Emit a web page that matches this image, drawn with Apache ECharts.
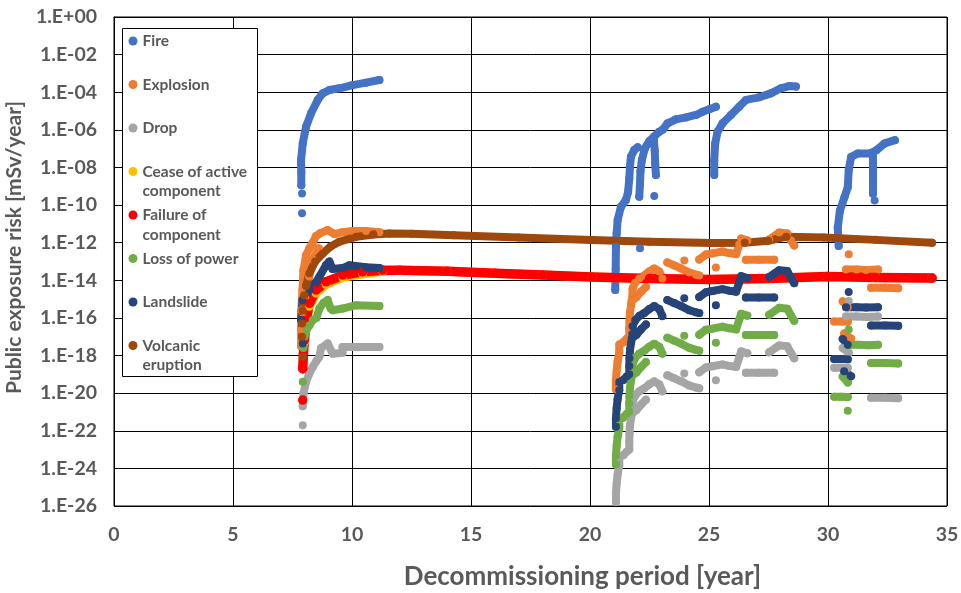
<!DOCTYPE html>
<html>
<head>
<meta charset="utf-8">
<script src="https://cdn.jsdelivr.net/npm/echarts@6/dist/echarts.min.js"></script>
<style>html,body{margin:0;padding:0;background:#fff}#chart{width:961px;height:593px}</style>
</head>
<body>
<div id="chart"></div>
<script>
// ---------- categories / labels ----------
const seriesNames = ['Fire', 'Explosion', 'Drop', 'Cease of active component', 'Failure of component', 'Loss of power', 'Landslide', 'Volcanic eruption'];
const legendLines = [['Fire'], ['Explosion'], ['Drop'], ['Cease of active', 'component'], ['Failure of', 'component'], ['Loss of power'], ['Landslide'], ['Volcanic', 'eruption']];
const seriesColors = ['#4472C4', '#ED7D31', '#A5A5A5', '#FFC000', '#FF0000', '#70AD47', '#264478', '#9E480E'];
// tick labels of the logarithmic axis (one per 2 decades, 1E+00 down to 1E-26)
const yTickLabels = ['1.E+00', '1.E-02', '1.E-04', '1.E-06', '1.E-08', '1.E-10', '1.E-12', '1.E-14', '1.E-16', '1.E-18', '1.E-20', '1.E-22', '1.E-24', '1.E-26'];

// ---------- series values: segments of [year, log10(risk in mSv/year)] ----------
const fireLog = [
  [[7.90, -10.44]],
  [[7.90, -9.38]],
  [[7.87, -8.94], [7.87, -8.24], [7.86, -7.6], [7.93, -6.72], [8.07, -5.83], [8.28, -5.12], [8.56, -4.41], [8.77, -4.06], [9.05, -3.88], [9.47, -3.79], [10.03, -3.62], [10.59, -3.49], [11.15, -3.35]],
  [[21.06, -14.52], [21.08, -13.4], [21.09, -12.22], [21.12, -11.5], [21.16, -10.8], [21.30, -10.09], [21.51, -9.73], [21.60, -9.3], [21.65, -8.6], [21.68, -7.96], [21.72, -7.43], [21.86, -7.07], [22.00, -6.93]],
  [[22.07, -9.56], [22.10, -8.9], [22.12, -8.2], [22.18, -7.6], [22.30, -7.0], [22.49, -6.6], [22.70, -6.35], [22.91, -6.1], [23.05, -6.0], [23.26, -5.65], [23.61, -5.44], [24.03, -5.34], [24.45, -5.21], [24.73, -5.04], [25.01, -4.91], [25.29, -4.77]],
  [[22.68, -6.5], [22.72, -7.1], [22.74, -7.8], [22.77, -8.4]],
  [[22.70, -9.52]],
  [[22.10, -12.3]],
  [[25.22, -8.4], [25.22, -7.61], [25.26, -6.72], [25.36, -6.1], [25.57, -5.65], [25.92, -5.21], [26.27, -4.77], [26.55, -4.41], [27.11, -4.27], [27.60, -4.06], [28.02, -3.79], [28.37, -3.67], [28.65, -3.7]],
  [[30.45, -12.18], [30.41, -11.19], [30.50, -10.3], [30.69, -9.59], [30.83, -9.05], [30.87, -8.15], [30.97, -7.44], [31.25, -7.26], [31.75, -7.26], [32.03, -7.09], [32.38, -6.72], [32.81, -6.55]],
  [[31.89, -7.44], [31.89, -8.4], [31.89, -9.4]],
  [[31.96, -9.76]]
];

const explosionLog = [
  [[7.86, -17.5], [7.86, -16.65], [7.87, -15.59], [7.92, -14.52], [7.96, -13.46], [8.07, -12.66], [8.21, -12.29], [8.34, -12.02], [8.49, -11.65], [8.67, -11.49], [8.97, -11.33], [9.26, -11.54], [9.60, -11.44], [10.02, -11.38], [10.59, -11.38], [11.15, -11.44]],
  [[7.95, -16.0], [8.05, -15.0], [8.20, -13.8], [8.35, -12.9], [8.60, -12.3]],
  [[21.09, -19.79], [21.09, -19.33], [21.12, -18.8], [21.16, -18.32], [21.23, -17.84], [21.23, -17.41], [21.40, -17.3], [21.55, -17.1], [21.65, -16.99], [21.65, -16.56], [21.66, -16.14], [21.68, -15.71], [21.73, -15.29], [21.78, -14.86], [21.79, -14.44], [21.90, -14.12], [22.07, -13.9], [22.28, -13.74], [22.49, -13.53], [22.70, -13.37], [22.91, -13.53], [23.04, -13.9]],
  [[21.75, -15.1], [21.95, -14.9], [22.15, -14.6], [22.35, -14.35]],
  [[23.25, -13.05], [23.54, -13.21], [23.83, -13.37], [24.17, -13.59], [24.45, -13.7], [24.59, -13.74]],
  [[23.96, -12.95]],
  [[24.59, -12.89], [24.87, -12.63], [25.14, -12.57], [25.56, -12.47], [25.85, -12.55], [26.14, -12.61], [26.27, -12.1], [26.35, -11.78], [26.61, -11.88]],
  [[26.55, -12.91], [27.10, -12.91], [27.74, -12.91]],
  [[27.53, -11.83], [27.95, -11.46], [28.29, -11.51], [28.45, -11.88], [28.58, -12.15]],
  [[25.29, -13.32]],
  [[30.87, -12.62]],
  [[30.76, -13.43], [31.20, -13.43], [31.60, -13.45], [32.10, -13.43]],
  [[31.81, -14.40], [32.40, -14.40], [32.95, -14.42]],
  [[30.62, -15.12], [30.83, -15.43]],
  [[30.26, -16.19], [30.55, -16.19], [30.83, -16.2]],
  [[30.68, -16.83], [30.97, -17.1]]
];

const dropLog = [
  [[7.93, -21.7]],
  [[7.93, -20.7], [7.96, -20.0], [8.07, -19.4], [8.21, -18.95], [8.35, -18.6], [8.50, -18.3], [8.63, -18.07], [8.70, -17.6], [8.98, -17.36], [9.19, -17.9], [9.60, -17.85]],
  [[9.60, -17.55], [11.15, -17.54]],
  [[21.09, -25.79], [21.09, -25.33], [21.12, -24.8], [21.16, -24.32], [21.23, -23.84], [21.23, -23.41], [21.40, -23.3], [21.55, -23.1], [21.65, -22.99], [21.65, -22.56], [21.66, -22.14], [21.68, -21.71], [21.73, -21.29], [21.78, -20.86], [21.79, -20.44], [21.90, -20.12], [22.07, -19.9], [22.28, -19.74], [22.49, -19.53], [22.70, -19.37], [22.91, -19.53], [23.04, -19.9]],
  [[21.75, -21.1], [21.95, -20.9], [22.15, -20.6], [22.35, -20.35]],
  [[23.25, -19.05], [23.54, -19.21], [23.83, -19.37], [24.17, -19.59], [24.45, -19.7], [24.59, -19.74]],
  [[23.96, -18.95]],
  [[24.59, -18.89], [24.87, -18.63], [25.14, -18.57], [25.56, -18.47], [25.85, -18.55], [26.14, -18.61], [26.27, -18.1], [26.35, -17.78], [26.61, -17.88]],
  [[26.55, -18.91], [27.10, -18.91], [27.74, -18.91]],
  [[27.53, -17.83], [27.95, -17.46], [28.29, -17.51], [28.45, -17.88], [28.58, -18.15]],
  [[25.29, -19.32]],
  [[30.87, -15.1]],
  [[30.76, -15.93], [31.20, -15.93], [31.60, -15.95], [32.10, -15.93]],
  [[30.62, -17.6], [30.87, -17.85]],
  [[30.26, -18.65], [30.55, -18.65], [30.83, -18.66]],
  [[31.81, -20.25], [32.40, -20.25], [32.95, -20.27]]
];

const ceaseLog = [
  [[8.00, -17.3], [8.07, -16.25], [8.21, -15.38], [8.49, -14.68], [8.91, -14.22], [9.61, -13.84], [10.45, -13.66], [11.29, -13.52], [12.0, -13.46], [14.0, -13.52], [16.0, -13.62], [18.0, -13.72], [20.08, -13.83], [22.5, -13.9], [25.01, -13.96], [27.5, -13.9], [29.96, -13.8], [32.0, -13.85], [34.37, -13.88]]
];

const failureLog = [
  [[7.93, -20.37]],
  [[7.93, -18.7], [7.96, -17.9], [8.00, -17.18], [8.07, -16.12], [8.21, -15.23], [8.49, -14.52], [8.91, -14.08], [9.61, -13.72], [10.45, -13.55], [11.29, -13.46], [12.0, -13.46], [14.0, -13.52], [16.0, -13.62], [18.0, -13.72], [20.08, -13.83], [22.5, -13.9], [25.01, -13.96], [27.5, -13.9], [29.96, -13.8], [32.0, -13.85], [34.37, -13.88]]
];

const powerLog = [
  [[7.93, -19.4]],
  [[7.96, -17.6], [8.00, -17.0], [8.10, -16.6], [8.21, -16.4], [8.35, -16.12], [8.50, -16.0], [8.63, -15.5], [8.80, -15.2], [8.98, -15.05], [9.10, -15.5], [9.19, -15.59], [9.61, -15.5], [10.17, -15.32], [11.15, -15.37]],
  [[21.09, -23.79], [21.09, -23.33], [21.12, -22.8], [21.16, -22.32], [21.23, -21.84], [21.23, -21.41], [21.40, -21.3], [21.55, -21.1], [21.65, -20.99], [21.65, -20.56], [21.66, -20.14], [21.68, -19.71], [21.73, -19.29], [21.78, -18.86], [21.79, -18.44], [21.90, -18.12], [22.07, -17.9], [22.28, -17.74], [22.49, -17.53], [22.70, -17.37], [22.91, -17.53], [23.04, -17.9]],
  [[21.75, -19.1], [21.95, -18.9], [22.15, -18.6], [22.35, -18.35]],
  [[23.25, -17.05], [23.54, -17.21], [23.83, -17.37], [24.17, -17.59], [24.45, -17.7], [24.59, -17.74]],
  [[23.96, -16.95]],
  [[24.59, -16.89], [24.87, -16.63], [25.14, -16.57], [25.56, -16.47], [25.85, -16.55], [26.14, -16.61], [26.27, -16.1], [26.35, -15.78], [26.61, -15.88]],
  [[26.55, -16.91], [27.10, -16.91], [27.74, -16.91]],
  [[27.53, -15.83], [27.95, -15.46], [28.29, -15.51], [28.45, -15.88], [28.58, -16.15]],
  [[25.29, -17.32]],
  [[30.87, -16.62]],
  [[30.97, -17.43], [31.30, -17.43], [31.70, -17.45], [32.10, -17.43]],
  [[31.81, -18.40], [32.40, -18.40], [32.95, -18.42]],
  [[30.62, -19.12], [30.83, -19.43]],
  [[30.26, -20.19], [30.55, -20.19], [30.83, -20.2]],
  [[30.83, -20.93]]
];

const landslideLog = [
  [[7.93, -17.36]],
  [[7.86, -16.1], [7.92, -15.05], [8.21, -14.52], [8.49, -14.1], [8.63, -13.81], [8.91, -13.19], [9.05, -13.0], [9.18, -13.4], [9.60, -13.35], [9.89, -13.2], [10.59, -13.3], [11.15, -13.35]],
  [[21.09, -21.79], [21.09, -21.33], [21.12, -20.8], [21.16, -20.32], [21.23, -19.84], [21.23, -19.41], [21.40, -19.3], [21.55, -19.1], [21.65, -18.99], [21.65, -18.56], [21.66, -18.14], [21.68, -17.71], [21.73, -17.29], [21.78, -16.86], [21.79, -16.44], [21.90, -16.12], [22.07, -15.9], [22.28, -15.74], [22.49, -15.53], [22.70, -15.37], [22.91, -15.53], [23.04, -15.9]],
  [[21.75, -17.1], [21.95, -16.9], [22.15, -16.6], [22.35, -16.35]],
  [[23.25, -15.05], [23.54, -15.21], [23.83, -15.37], [24.17, -15.59], [24.45, -15.7], [24.59, -15.74]],
  [[23.96, -14.95]],
  [[24.59, -14.89], [24.87, -14.63], [25.14, -14.57], [25.56, -14.47], [25.85, -14.55], [26.14, -14.61], [26.27, -14.1], [26.35, -13.78], [26.61, -13.88]],
  [[26.55, -14.91], [27.10, -14.91], [27.74, -14.91]],
  [[27.53, -13.83], [27.95, -13.46], [28.29, -13.51], [28.45, -13.88], [28.58, -14.15]],
  [[25.29, -15.32]],
  [[30.87, -14.62]],
  [[30.76, -15.43], [31.20, -15.43], [31.60, -15.45], [32.10, -15.43]],
  [[31.81, -16.40], [32.40, -16.40], [32.95, -16.42]],
  [[30.62, -17.12], [30.83, -17.43]],
  [[30.26, -18.19], [30.55, -18.19], [30.83, -18.2]],
  [[30.68, -18.83], [30.97, -19.1]]
];

const volcanicLog = [
  [[7.93, -18.07]],
  [[7.90, -17.0], [7.90, -16.3], [7.92, -15.6], [8.00, -14.8], [8.07, -14.3], [8.21, -13.63], [8.45, -13.0], [8.77, -12.57], [9.10, -12.2], [9.47, -11.95], [10.17, -11.69], [10.90, -11.57], [11.57, -11.51], [12.5, -11.52], [14.28, -11.6], [17.0, -11.72], [20.08, -11.86], [22.5, -11.95], [25.14, -12.02], [26.5, -12.0], [27.49, -11.9], [28.25, -11.68], [29.82, -11.72], [32.0, -11.85], [34.37, -12.0]]
];

const allSeriesLog = [fireLog, explosionLog, dropLog, ceaseLog, failureLog, powerLog, landslideLog, volcanicLog];
const lineWidths = [8, 8, 8, 9, 9.5, 8, 8, 8];

// ---------- build ----------
const FONT = 'Lato, "Noto Sans", sans-serif';
const TEXT_GREY = '#595959';

function toData(segs) {
  const out = [];
  segs.forEach(function (s, i) {
    if (i > 0) out.push(['-', '-']);
    s.forEach(function (p) { out.push([p[0], p[1]]); });
  });
  return out;
}

const series = seriesNames.map(function (name, i) {
  return {
    type: 'line',
    name: name,
    data: toData(allSeriesLog[i]),
    connectNulls: false,
    showSymbol: true,
    symbol: 'circle',
    symbolSize: lineWidths[i],
    itemStyle: { color: seriesColors[i] },
    lineStyle: { color: seriesColors[i], width: lineWidths[i], cap: 'round', join: 'round' },
    emphasis: { disabled: true },
    silent: true,
    animation: false
  };
});

const chart = echarts.init(document.getElementById('chart'), null, { renderer: 'canvas' });
chart.setOption({
  animation: false,
  backgroundColor: '#ffffff',
  grid: { left: 114, right: 14, top: 17, bottom: 87, outerBoundsMode: 'none', containLabel: false, show: true, borderColor: '#000', borderWidth: 1, backgroundColor: 'transparent' },
  xAxis: {
    type: 'value', min: 0, max: 35, interval: 5,
    axisLine: { show: true, lineStyle: { color: '#000', width: 1 } },
    axisTick: { show: false },
    splitLine: { show: true, lineStyle: { color: '#000', width: 1 } },
    axisLabel: { color: TEXT_GREY, fontFamily: FONT, fontWeight: 'bold', fontSize: 19.5, margin: 19 },
    name: 'Decommissioning period [year]',
    nameLocation: 'middle', nameGap: 58,
    nameTextStyle: { color: TEXT_GREY, fontFamily: FONT, fontWeight: 'bold', fontSize: 26, padding: [0, 0, 0, 104] }
  },
  yAxis: {
    // logarithmic risk axis: positions are log10 of the risk, labelled 1.E+00 ... 1.E-26
    type: 'value', min: -26, max: 0, interval: 2,
    axisLine: { show: true, lineStyle: { color: '#000', width: 1 } },
    axisTick: { show: false },
    splitLine: { show: true, lineStyle: { color: '#000', width: 1 } },
    axisLabel: {
      color: TEXT_GREY, fontFamily: FONT, fontWeight: 'bold', fontSize: 19.5, margin: 17,
      formatter: function (v) { return yTickLabels[Math.round(-v / 2)] || ''; }
    },
    name: 'Public exposure risk [mSv/year]',
    nameLocation: 'middle', nameGap: 86,
    nameTextStyle: { color: TEXT_GREY, fontFamily: FONT, fontWeight: 'bold', fontSize: 21, padding: [0, 0, 0, 28] }
  },
  legend: {
    orient: 'vertical', left: 128.5, top: 11.75, padding: 0, z: 10,
    itemGap: -15, itemWidth: 9, itemHeight: 9, icon: 'circle',
    selectedMode: false,
    data: seriesNames,
    formatter: function (name) {
      const lines = legendLines[seriesNames.indexOf(name)];
      return '\u00a0\n' + lines[0] + '\n' + (lines[1] || '\u00a0');
    },
    textStyle: { color: TEXT_GREY, fontFamily: FONT, fontWeight: 'bold', fontSize: 15.5, lineHeight: 19.5 }
  },
  graphic: [{
    type: 'rect', z: 9,
    shape: { x: 122.5, y: 28.5, width: 135, height: 348 },
    style: { fill: '#ffffff', stroke: '#000', lineWidth: 1 }
  }],
  series: series
});
</script>
</body>
</html>
